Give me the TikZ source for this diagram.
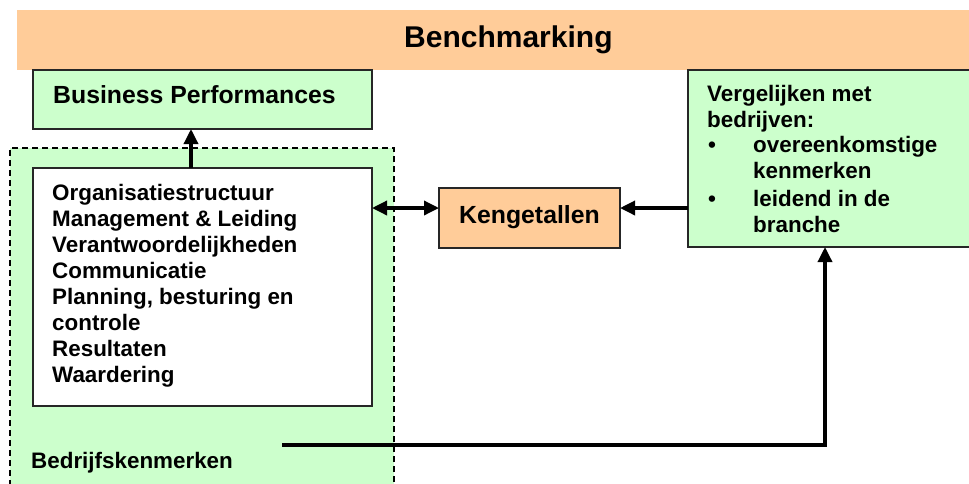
\documentclass[tikz,border=0pt]{standalone}
\usepackage{fontspec}
\setmainfont{Liberation Sans}
\usetikzlibrary{arrows.meta}
\definecolor{orng}{RGB}{255,204,153}
\definecolor{lgrn}{RGB}{204,255,204}
\begin{document}
\begin{tikzpicture}[x=1pt,y=-1pt,
  box/.style={draw=black!85, line width=1.6pt, inner sep=0pt, outer sep=0pt, anchor=north west},
  txt/.style={anchor=base west, inner sep=0pt, font=\bfseries\fontsize{22.4}{26}\selectfont},
  big/.style={anchor=base west, inner sep=0pt, font=\bfseries\fontsize{24.8}{28}\selectfont},
  huge/.style={anchor=base west, inner sep=0pt, font=\bfseries\fontsize{30}{34}\selectfont},
  conn/.style={line width=3.4pt, -{Triangle[length=15pt,width=14pt]}},
  dconn/.style={line width=3.4pt, {Triangle[length=15pt,width=14pt]}-{Triangle[length=15pt,width=14pt]}},
]
\useasboundingbox (0,0) rectangle (969,483);
% banner
\node[fill=orng, inner sep=0pt, outer sep=0pt, anchor=north west, minimum width=970pt, minimum height=60pt] (banner) at (17,10) {};
\node[huge] (bmtxt) at (404,47) {Benchmarking};
% dashed Bedrijfskenmerken area
\node[fill=lgrn, draw=black, dashed, dash pattern=on 6pt off 4pt, line width=1.3pt, inner sep=0pt, outer sep=0pt, anchor=north west, minimum width=384pt, minimum height=360pt] (bk) at (10,148) {};
\node[txt] (bktxt) at (31,468) {Bedrijfskenmerken};
% Business Performances
\node[box, fill=lgrn, minimum width=339pt, minimum height=59pt] (bp) at (33,70) {};
\node[big] (bptxt) at (53,103) {Business Performances};
% white box
\node[box, fill=white, minimum width=339pt, minimum height=238pt] (wb) at (33,168) {};
\node[txt] (w1) at (52,200) {Organisatiestructuur};
\node[txt] (w2) at (52,226) {Management \& Leiding};
\node[txt] (w3) at (52,252) {Verantwoordelijkheden};
\node[txt] (w4) at (52,278) {Communicatie};
\node[txt] (w5) at (52,304) {Planning, besturing en};
\node[txt] (w6) at (52,330) {controle};
\node[txt] (w7) at (52,356) {Resultaten};
\node[txt] (w8) at (52,382) {Waardering};
% Kengetallen
\node[box, fill=orng, minimum width=181pt, minimum height=60pt] (kg) at (439,188) {};
\node[big] (kgtxt) at (459,223) {Kengetallen};
% right box
\node[box, fill=lgrn, minimum width=300pt, minimum height=177pt] (vb) at (688,70) {};
\node[txt] (v1) at (707,101) {Vergelijken met};
\node[txt] (v2) at (707,127) {bedrijven:};
\node[txt] (b1) at (708,152) {•};
\node[txt] (v3) at (753,152) {overeenkomstige};
\node[txt] (v4) at (753,178) {kenmerken};
\node[txt] (b2) at (708,206) {•};
\node[txt] (v5) at (753,206) {leidend in de};
\node[txt] (v6) at (753,232) {branche};
% connectors
\coordinate (ay) at (0,208);
\coordinate (ux) at (191,0);
\coordinate (ls) at (282,445);
\coordinate (lc) at (825,445);
\draw[conn] (ux |- wb.north) -- (ux |- bp.south);
\draw[dconn] (wb.east |- ay) -- (kg.west |- ay);
\draw[conn] (vb.west |- ay) -- (kg.east |- ay);
\draw[conn] (ls) -- (lc) -- (lc |- vb.south);
\end{tikzpicture}
\end{document}
